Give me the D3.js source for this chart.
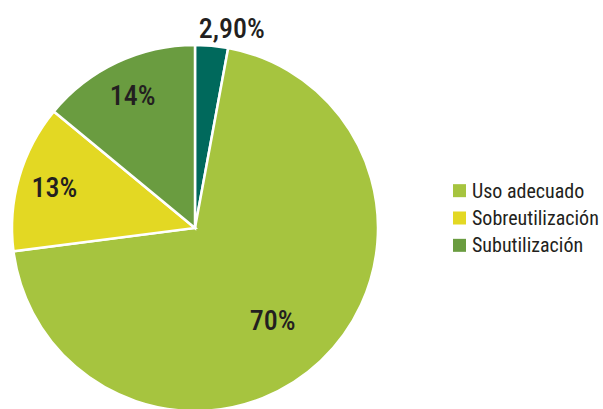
<!DOCTYPE html>
<html><head><meta charset="utf-8">
<script src="https://cdn.jsdelivr.net/npm/d3@7"></script>
<style>
body{margin:0;background:#fff;}
text{font-family:"Liberation Sans Narrow","Arial Narrow","Roboto Condensed","Liberation Sans",sans-serif;font-stretch:condensed;fill:#231f20;}
</style></head>
<body><svg id="c" width="603" height="409"></svg>
<script>
const categories = ["Otro", "Uso adecuado", "Sobreutilización", "Subutilización"];
const values = [2.9, 70, 13, 14];
const labels = ["2,90%", "70%", "13%", "14%"];
const colors = ["#00695c", "#a6c43f", "#e3d823", "#6a9c40"];
const legendCats = ["Uso adecuado", "Sobreutilización", "Subutilización"];

const svg = d3.select("#c");
const cx = 195, cy = 228, r = 183;
const g = svg.append("g").attr("transform", `translate(${cx},${cy})`);
const pie = d3.pie().sort(null).value(d => d.v);
const data = pie(categories.map((c, i) => ({c, v: values[i], l: labels[i], col: colors[i]})));
const arc = d3.arc().innerRadius(0).outerRadius(r);
g.selectAll("path").data(data).join("path")
  .attr("d", arc).attr("fill", d => d.data.col)
  .attr("stroke", "#fff").attr("stroke-width", 2.5).attr("stroke-linejoin", "miter");

function labPos(d) {
  const frac = (d.endAngle - d.startAngle) / (2 * Math.PI);
  let a, k;
  if (frac < 0.05) { a = d.endAngle; k = 1.11; }
  else if (frac > 0.5) { a = (d.startAngle + d.endAngle) / 2 + 0.06; k = 0.66; }
  else { a = (d.startAngle + d.endAngle) / 2; k = 0.8; }
  return [Math.sin(a) * r * k, -Math.cos(a) * r * k];
}
g.selectAll("text.lab").data(data).join("text").attr("class", "lab")
  .attr("text-anchor", "middle").attr("dominant-baseline", "central")
  .attr("font-size", 28).attr("font-weight", 500)
  .attr("x", d => labPos(d)[0])
  .attr("y", d => labPos(d)[1])
  .text(d => d.data.l);

const y = d3.scaleBand().domain(legendCats).range([177, 259]);
const leg = svg.append("g");
legendCats.forEach(c => {
  const i = categories.indexOf(c);
  const yy = y(c) + y.bandwidth() / 2;
  leg.append("rect").attr("x", 453).attr("y", yy - 6.5).attr("width", 13).attr("height", 13).attr("fill", colors[i]);
  leg.append("text").attr("x", 472).attr("y", yy).attr("dominant-baseline", "central")
    .attr("font-size", 20).text(c);
});
</script></body></html>
